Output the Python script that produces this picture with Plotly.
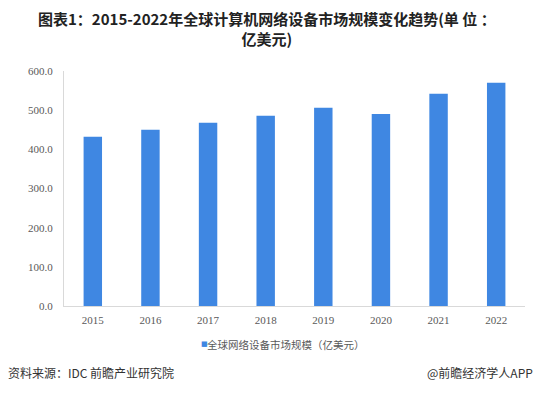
import plotly.graph_objects as go

years = ["2015", "2016", "2017", "2018", "2019", "2020", "2021", "2022"]
values = [432, 450, 468, 486, 506, 490, 542, 570]
series_name = "全球网络设备市场规模（亿美元）"
title_line1 = "图表1：2015-2022年全球计算机网络设备市场规模变化趋势(单 位 ："
title_line2 = "亿美元)"
y_ticks = [0, 100, 200, 300, 400, 500, 600]
source_text = "资料来源：IDC 前瞻产业研究院"
credit_text = "@前瞻经济学人APP"

BAR_COLOR = "#3F87E2"
W, H = 537, 393
L, R, T, B = 64, 12, 71, 87
PW, PH = W - L - R, H - T - B


def px_x(x):
    return (x - L) / PW


def px_y(y):
    return (H - B - y) / PH


fig = go.Figure()
fig.add_trace(go.Bar(x=years, y=values, name=series_name, showlegend=False,
                     marker=dict(color=BAR_COLOR, line=dict(width=0))))

tick_font = dict(family="Times New Roman, Liberation Serif, serif", size=11, color="#595959")
cjk = "Noto Sans CJK SC"

fig.update_layout(
    width=W, height=H,
    margin=dict(l=L, r=R, t=T, b=B, autoexpand=False),
    paper_bgcolor="white", plot_bgcolor="white",
    bargap=0.68,
    xaxis=dict(showline=True, linecolor="#D9D9D9", linewidth=1, ticks="",
               tickfont=tick_font, showgrid=False, ticklabelstandoff=4),
    yaxis=dict(range=[0, 600], tickvals=y_ticks,
               ticktext=[f"{v:.1f}" for v in y_ticks],
               showline=True, linecolor="#D9D9D9", linewidth=1, ticks="",
               tickfont=tick_font, showgrid=False, zeroline=False,
               ticklabelstandoff=8),
    showlegend=False,
    annotations=[
        dict(text="<b>" + title_line1 + "<br>" + title_line2 + "</b>",
             xref="paper", yref="paper",
             x=px_x(267), y=px_y(28), xanchor="center", yanchor="middle",
             align="center", showarrow=False,
             font=dict(family=cjk, size=15, color="#222222")),
        dict(text="■", xref="paper", yref="paper",
             x=px_x(199), y=px_y(344), xanchor="left", yanchor="middle",
             showarrow=False, font=dict(family="DejaVu Sans", size=7, color=BAR_COLOR)),
        dict(text=series_name, xref="paper", yref="paper",
             x=px_x(205), y=px_y(344), xanchor="left", yanchor="middle",
             showarrow=False, font=dict(family=cjk, size=10.5, color="#595959")),
        dict(text=source_text, xref="paper", yref="paper",
             x=px_x(6), y=px_y(372), xanchor="left", yanchor="middle",
             showarrow=False, font=dict(family=cjk, size=12, color="#333333")),
        dict(text=credit_text, xref="paper", yref="paper",
             x=px_x(535), y=px_y(372), xanchor="right", yanchor="middle",
             showarrow=False, font=dict(family=cjk, size=12, color="#333333")),
    ],
)

fig.write_html("out.html", config={"displayModeBar": False},
               post_script="document.body.style.margin='0';")
